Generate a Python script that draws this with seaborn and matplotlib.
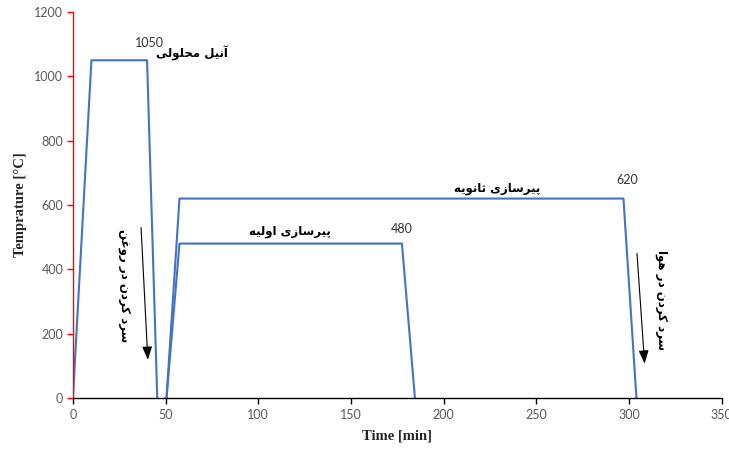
import matplotlib
matplotlib.use("Agg")
import matplotlib.pyplot as plt
import seaborn as sns
import pandas as pd

# ---------------- data ----------------
solution_time = [0, 10, 40, 45.5]
solution_temp = [0, 1050, 1050, 0]
aging1_time = [50.5, 57.5, 177.5, 184.5]
aging1_temp = [0, 480, 480, 0]
aging2_time = [50.5, 57.5, 297, 304]
aging2_temp = [0, 620, 620, 0]

x_ticks = [0, 50, 100, 150, 200, 250, 300, 350]
y_ticks = [0, 200, 400, 600, 800, 1000, 1200]

label_solution = "آنیل محلولی"
label_aging1 = "پیرسازی اولیه"
label_aging2 = "پیرسازی ثانویه"
label_oil = "سرد کردن در روغن"
label_air = "سرد کردن در هوا"
value_labels = ["1050", "480", "620"]

# ------------- Persian shaping (no external libs) -------------
FORMS = {
    'ا': (0xFE8D, 0xFE8E), 'آ': (0xFE81, 0xFE82), 'و': (0xFEED, 0xFEEE),
    'ر': (0xFEAD, 0xFEAE), 'ز': (0xFEAF, 0xFEB0), 'د': (0xFEA9, 0xFEAA),
    'ن': (0xFEE5, 0xFEE6, 0xFEE7, 0xFEE8), 'ی': (0xFEEF, 0xFEF0, 0xFEF3, 0xFEF4),
    'ل': (0xFEDD, 0xFEDE, 0xFEDF, 0xFEE0), 'م': (0xFEE1, 0xFEE2, 0xFEE3, 0xFEE4),
    'ح': (0xFEA1, 0xFEA2, 0xFEA3, 0xFEA4), 'پ': (0xFB56, 0xFB57, 0xFB58, 0xFB59),
    'س': (0xFEB1, 0xFEB2, 0xFEB3, 0xFEB4), 'ث': (0xFE99, 0xFE9A, 0xFE9B, 0xFE9C),
    'ه': (0xFEE9, 0xFEEA, 0xFEEB, 0xFEEC), 'ک': (0xFB8E, 0xFB8F, 0xFB90, 0xFB91),
    'غ': (0xFECD, 0xFECE, 0xFECF, 0xFED0),
}


def shape(s):
    out = []
    n = len(s)
    for i, c in enumerate(s):
        if c not in FORMS:
            out.append(c)
            continue
        f = FORMS[c]
        prev = s[i - 1] if i > 0 else None
        nxt = s[i + 1] if i < n - 1 else None
        jp = prev in FORMS and len(FORMS[prev]) == 4
        jn = len(f) == 4 and nxt in FORMS
        if jp and jn:
            code = f[3]
        elif jp:
            code = f[1]
        elif jn:
            code = f[2]
        else:
            code = f[0]
        out.append(chr(code))
    return "".join(reversed(out))


# ---------------- plot ----------------
sns.set_style("white")
plt.rcParams['font.family'] = ['DejaVu Sans']

fig = plt.figure(figsize=(7.29, 4.5), dpi=100)
ax = fig.add_axes([0.100, 0.1156, 0.890, 0.8577])

blue = "#4472C4"
for t, v in [(solution_time, solution_temp), (aging1_time, aging1_temp),
             (aging2_time, aging2_temp)]:
    sns.lineplot(x=t, y=v, sort=False, estimator=None, color=blue,
                 linewidth=1.5, ax=ax)

ax.set_xlim(0, 350)
ax.set_ylim(0, 1200)
ax.set_xticks(x_ticks)
ax.set_yticks(y_ticks)
ax.set_xticklabels([str(v) for v in x_ticks], fontfamily="Lato", fontsize=9, color="#595959")
ax.set_yticklabels([str(v) for v in y_ticks], fontfamily="Lato", fontsize=9, color="#595959")

for side in ["top", "right"]:
    ax.spines[side].set_visible(False)
ax.spines["left"].set_color("red")
ax.spines["left"].set_linewidth(1.0)
ax.spines["bottom"].set_color("black")
ax.spines["bottom"].set_linewidth(1.0)
ax.tick_params(axis="y", which="major", direction="out", length=4, width=1,
               color="red", left=True, pad=3)
ax.tick_params(axis="x", which="major", direction="out", length=4, width=1,
               color="black", bottom=True, pad=4)

ax.set_xlabel("Time [min]", fontfamily="Liberation Serif", fontweight="bold",
              fontsize=10.5, labelpad=6)
ax.set_ylabel("Temprature [°C]", fontfamily="Liberation Serif", fontweight="bold",
              fontsize=10.5, labelpad=5)

# value labels
vl = dict(fontfamily="Lato", fontsize=9, color="#333333", ha="center", va="center")
ax.text(41.5, 1105, value_labels[0], **vl)
ax.text(177.5, 525, value_labels[1], **vl)
ax.text(299, 678, value_labels[2], **vl)

# Persian labels
fa = dict(fontfamily="DejaVu Sans", fontsize=8.5, color="black", fontweight="bold")
ax.text(64, 1070, shape(label_solution), ha="center", va="center", **fa)
ax.text(117, 518, shape(label_aging1), ha="center", va="center", **fa)
ax.text(229, 652, shape(label_aging2), ha="center", va="center", **fa)
ax.text(28, 350, shape(label_oil), ha="center", va="center", rotation=-90, **fa)
ax.text(317.6, 305, shape(label_air), ha="center", va="center", rotation=-90, **fa)

# arrows
arrow = dict(arrowstyle="-|>,head_length=0.8,head_width=0.3", color="black", lw=0.8)
ax.annotate("", xy=(40.5, 110), xytext=(36.7, 538), arrowprops=arrow)
ax.annotate("", xy=(308.5, 98), xytext=(304.2, 458), arrowprops=arrow)

fig.savefig("out.png", dpi=100)
